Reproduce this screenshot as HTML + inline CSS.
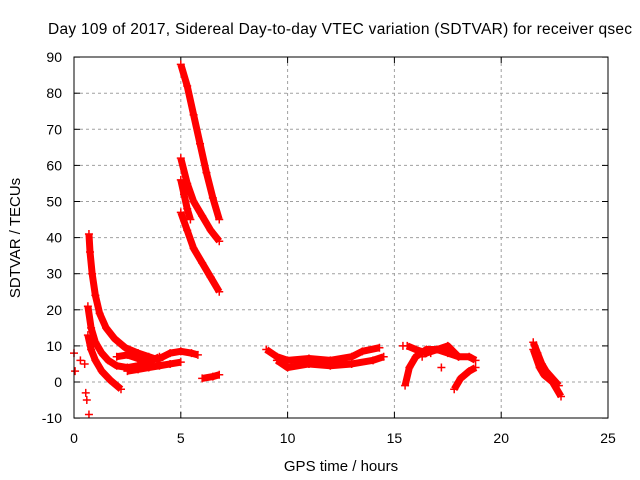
<!DOCTYPE html>
<html><head><meta charset="utf-8"><style>
body{margin:0;background:#fff}
svg{display:block;font-family:"Liberation Sans",sans-serif}
</style></head><body>
<svg id="c" width="640" height="480">
<rect width="640" height="480" fill="#fff"/>
<text x="340" y="34" font-size="15.5" text-anchor="middle" textLength="584">Day 109 of 2017, Sidereal Day-to-day VTEC variation (SDTVAR) for receiver qsec</text>
<text x="20" y="238" font-size="15" text-anchor="middle" transform="rotate(-90 20 238)">SDTVAR / TECUs</text>
<text x="341" y="471" font-size="15" text-anchor="middle">GPS time / hours</text>
<g id="grid"></g><g id="ticks"></g><g id="marks"></g>
<rect x="74" y="57" width="534" height="361" fill="none" stroke="#000"/>
</svg>
<script>
const xTicks=[0,5,10,15,20,25];
const yTicks=[-10,0,10,20,30,40,50,60,70,80,90];
const trackTimes=[
[0.7,0.75,0.85,1.0,1.2,1.5,1.9,2.4,3.0,3.5,4.0],
[0.65,0.8,1.0,1.3,1.6,2.0,2.5,3.0,3.5,4.0],
[0.65,0.8,1.0,1.3,1.7,2.2],
[2.0,2.5,3.0,3.5,4.0,4.5,5.0,5.5,5.8],
[2.5,3.0,3.5,4.0,4.5,5.0],
[6.0,6.5,6.8],
[5.0,5.3,5.6,5.9,6.2,6.5,6.8],
[5.0,5.3,5.6,6.0,6.4,6.8],
[5.0,5.3,5.6,6.0,6.4,6.8],
[9.0,9.5,10.0,11.0,12.0,13.0,13.5,14.3],
[9.5,10.0,11.0,12.0,13.0,14.0,14.5],
[15.5,15.7,16.0,16.5,17.0,17.5,18.0,18.5,18.8],
[15.6,16.0,16.5,17.0,17.5,18.0],
[17.8,18.1,18.5,18.8],
[21.5,21.7,21.9,22.1,22.4,22.7],
[21.5,21.8,22.0,22.4,22.8],
[5.0,5.15,5.3,5.45],
[0.0,0.05,0.3,0.5,0.55,0.6,0.7,15.4,16.3,16.7,17.2]
];
const trackValues=[
[41,36,30,24,19,15,12,9.5,8,7,6],
[21,15,11,8,6,4.5,4,4.5,5.5,7],
[13,9,6,3,0.5,-2],
[7,7.5,6.5,6,6.5,8,8.5,8,7.5],
[3,3.5,4,4.5,5,5.5],
[1,1.5,2],
[88,82,74,66,58,51,45],
[62,55,50,46,42,39],
[47,42,37,33,29,25],
[9,7,6,6.5,6,7,8.5,9.5],
[6,4,5,4.5,5,6,7],
[-1,4,7,9,9,8,7,7,6],
[10,9,8,9,10,7],
[-2,1,3,4],
[11,8,5,3,1,-1],
[9,4,2,0,-4],
[56,52,48,45],
[8,3,6,5,-3,-5,-9,10,7,8,4]
];
const X=v=>74+v*534/25, Y=v=>382-v*3.61;
const ns="http://www.w3.org/2000/svg";
const g=document.getElementById('grid'),t=document.getElementById('ticks'),m=document.getElementById('marks');
function el(p,n,a){const e=document.createElementNS(ns,n);for(const k in a)e.setAttribute(k,a[k]);p.appendChild(e);return e;}
xTicks.forEach(v=>{
 if(v>0&&v<25){const l=el(g,'line',{x1:X(v),x2:X(v),y1:57,y2:418,stroke:'#a0a0a0','stroke-dasharray':'3,3'});
 
 }
 el(t,'line',{x1:X(v),x2:X(v),y1:418,y2:412,stroke:'#000'});
 el(t,'line',{x1:X(v),x2:X(v),y1:57,y2:63,stroke:'#000'});
 const tx=el(t,'text',{x:X(v),y:443,'font-size':14,'text-anchor':'middle'});tx.textContent=v;
 
 
});
yTicks.forEach(v=>{
 if(v>-10&&v<90){const l=el(g,'line',{x1:74,x2:608,y1:Y(v),y2:Y(v),stroke:'#a0a0a0','stroke-dasharray':'3,3'});
 
 }
 el(t,'line',{x1:74,x2:80,y1:Y(v),y2:Y(v),stroke:'#000'});
 el(t,'line',{x1:608,x2:602,y1:Y(v),y2:Y(v),stroke:'#000'});
 const tx=el(t,'text',{x:62,y:Y(v)+5,'font-size':14,'text-anchor':'end'});tx.textContent=v;
 
 
});
const nTracks=trackTimes.length;
trackTimes.forEach((ts,i)=>{
 const vs=trackValues[i];
 const grp=el(m,'g',{});
 
 
 if(i<nTracks-1){el(grp,'polyline',{points:ts.map((x,j)=>X(x)+','+Y(vs[j])).join(' '),fill:'none',stroke:'#f00','stroke-width':7,'stroke-linejoin':'round'});}
 ts.forEach((x,j)=>{const cx=X(x),cy=Y(vs[j]);
  el(grp,'path',{d:`M${cx-4} ${cy}H${cx+4}M${cx} ${cy-4}V${cy+4}`,stroke:'#f00','stroke-width':1.5});});
});
</script>
</body></html>
